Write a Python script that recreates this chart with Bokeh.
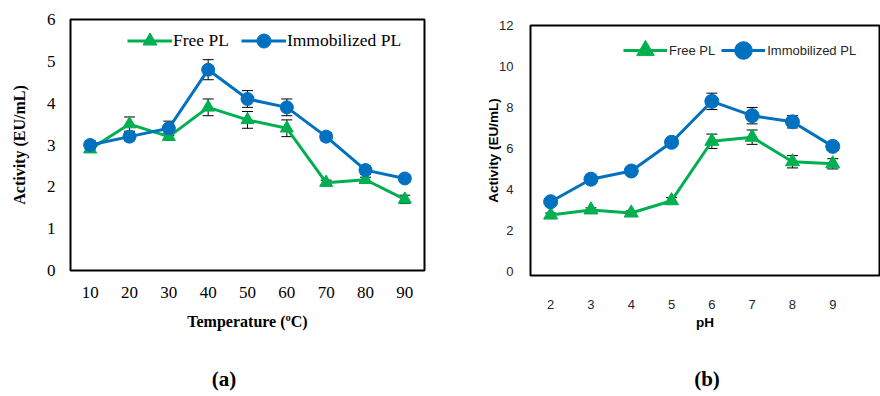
from bokeh.plotting import figure
from bokeh.layouts import row, column
from bokeh.models import (Range1d, FixedTicker, Whisker, TeeHead, ColumnDataSource,
                          Legend, LegendItem, Div, Spacer)
from bokeh.embed import file_html
from bokeh.resources import INLINE

# ---- data: panel (a) temperature ----
temp = [10, 20, 30, 40, 50, 60, 70, 80, 90]
free_a = [2.9, 3.5, 3.2, 3.9, 3.6, 3.4, 2.1, 2.17, 1.7]
free_a_err = [0.08, 0.17, 0.08, 0.2, 0.2, 0.2, 0.06, 0.06, 0.1]
imm_a = [3.0, 3.2, 3.4, 4.8, 4.1, 3.9, 3.2, 2.4, 2.2]
imm_a_err = [0.1, 0.1, 0.17, 0.24, 0.2, 0.2, 0.1, 0.1, 0.08]
yticks_a = [0, 1, 2, 3, 4, 5, 6]

# ---- data: panel (b) pH ----
ph = [2, 3, 4, 5, 6, 7, 8, 9]
free_b = [2.75, 3.0, 2.85, 3.45, 6.35, 6.55, 5.35, 5.25]
free_b_err = [0.1, 0.1, 0.1, 0.15, 0.35, 0.35, 0.3, 0.25]
imm_b = [3.4, 4.5, 4.9, 6.3, 8.3, 7.6, 7.3, 6.1]
imm_b_err = [0.1, 0.1, 0.1, 0.15, 0.4, 0.4, 0.3, 0.2]
yticks_b = [0, 2, 4, 6, 8, 10, 12]

GREEN = "#00B050"
BLUE = "#0070C0"
H = 362


def add_series(p, x, y, err, color, marker, size):
    src = ColumnDataSource(dict(x=x, y=y, lo=[a - b for a, b in zip(y, err)],
                                hi=[a + b for a, b in zip(y, err)]))
    w = Whisker(source=src, base="x", upper="hi", lower="lo", dimension="height",
                line_color="black", line_width=1, level="underlay",
                upper_head=TeeHead(size=11, line_color="black", line_width=1),
                lower_head=TeeHead(size=11, line_color="black", line_width=1))
    p.add_layout(w)
    lr = p.line("x", "y", source=src, line_color=color, line_width=3)
    sr = p.scatter("x", "y", source=src, marker=marker, size=size,
                   fill_color=color, line_color=color)
    return [lr, sr]


def style(p, font, tick_size, title_size, ticks_x, ticks_y, color):
    p.outline_line_color = "black"
    p.outline_line_width = 2
    p.xgrid.visible = False
    p.ygrid.visible = False
    for ax in (p.xaxis[0], p.yaxis[0]):
        ax.axis_line_color = None
        ax.major_tick_line_color = None
        ax.minor_tick_line_color = None
        ax.major_tick_in = 0
        ax.major_tick_out = 0
        ax.major_label_text_font = font
        ax.major_label_text_font_size = tick_size
        ax.major_label_text_color = color
        ax.axis_label_text_font = font
        ax.axis_label_text_font_size = title_size
        ax.axis_label_text_font_style = "bold"
        ax.axis_label_text_color = "black"
    p.xaxis.ticker = FixedTicker(ticks=ticks_x)
    p.yaxis.ticker = FixedTicker(ticks=ticks_y)


# ---------- panel (a) ----------
pa = figure(width=448, height=H, output_backend="svg", toolbar_location=None,
            title_location=None, frame_align=False,
            x_range=Range1d(5, 95), y_range=Range1d(0, 6),
            min_border_left=70, min_border_right=24, min_border_top=19,
            min_border_bottom=H - 270)
style(pa, "Liberation Serif", "17px", "16px", temp, yticks_a, "black")
pa.xaxis.axis_label = "Temperature (ºC)"
pa.yaxis.axis_label = "Activity (EU/mL)"
pa.yaxis.major_label_standoff = 15
pa.yaxis.axis_label_standoff = 16
pa.xaxis.major_label_standoff = 16
pa.xaxis.axis_label_standoff = 12

ra_free = add_series(pa, temp, free_a, free_a_err, GREEN, "triangle", 13)
ra_imm = add_series(pa, temp, imm_a, imm_a_err, BLUE, "circle", 13)

leg_a = Legend(items=[LegendItem(label="Free PL", renderers=ra_free),
                      LegendItem(label="Immobilized PL", renderers=ra_imm)],
               orientation="horizontal", location=(57, 212),
               padding=0, margin=0, spacing=12, label_standoff=1,
               glyph_width=45, glyph_height=35,
               border_line_color=None, background_fill_alpha=0,
               label_text_font="Liberation Serif", label_text_font_size="17.5px",
               label_text_color="black")
pa.add_layout(leg_a)

# ---------- panel (b) ----------
pb = figure(width=432, height=H, output_backend="svg", toolbar_location=None,
            title_location=None, frame_align=False,
            x_range=Range1d(1.5, 10.16), y_range=Range1d(-0.2, 12),
            min_border_left=82, min_border_right=1, min_border_top=25,
            min_border_bottom=H - 275)
style(pb, "Liberation Sans", "13px", "13.5px", ph, yticks_b, "#262626")
pb.xaxis.axis_label = "pH"
pb.yaxis.axis_label = "Activity (EU/mL)"
pb.yaxis.major_label_standoff = 17
pb.yaxis.axis_label_standoff = -5
pb.xaxis.major_label_standoff = 24
pb.xaxis.axis_label_standoff = 3

rb_free = add_series(pb, ph, free_b, free_b_err, GREEN, "triangle", 14)
rb_imm = add_series(pb, ph, imm_b, imm_b_err, BLUE, "circle", 14)

leg_b = Legend(items=[LegendItem(label="Free PL", renderers=rb_free),
                      LegendItem(label="Immobilized PL", renderers=rb_imm)],
               orientation="horizontal", location=(93, 200),
               padding=0, margin=0, spacing=6, label_standoff=2,
               glyph_width=44, glyph_height=50,
               border_line_color=None, background_fill_alpha=0,
               label_text_font="Liberation Sans", label_text_font_size="13px",
               label_text_color="#262626")
pb.add_layout(leg_b)

# ---------- sub-figure captions ----------
cap_style = {"font-family": "Liberation Serif", "font-size": "21px",
             "font-weight": "bold", "text-align": "center",
             "line-height": "34px", "color": "black"}
cap_a = Div(text="(a)", width=448, height=34, margin=0, styles=cap_style)
cap_b = Div(text="(b)", width=346, height=34, margin=0, styles=cap_style)

layout = column(row(pa, pb), row(cap_a, Spacer(width=86, height=34, margin=0), cap_b))
open("out.html", "w").write(file_html(layout, INLINE))
